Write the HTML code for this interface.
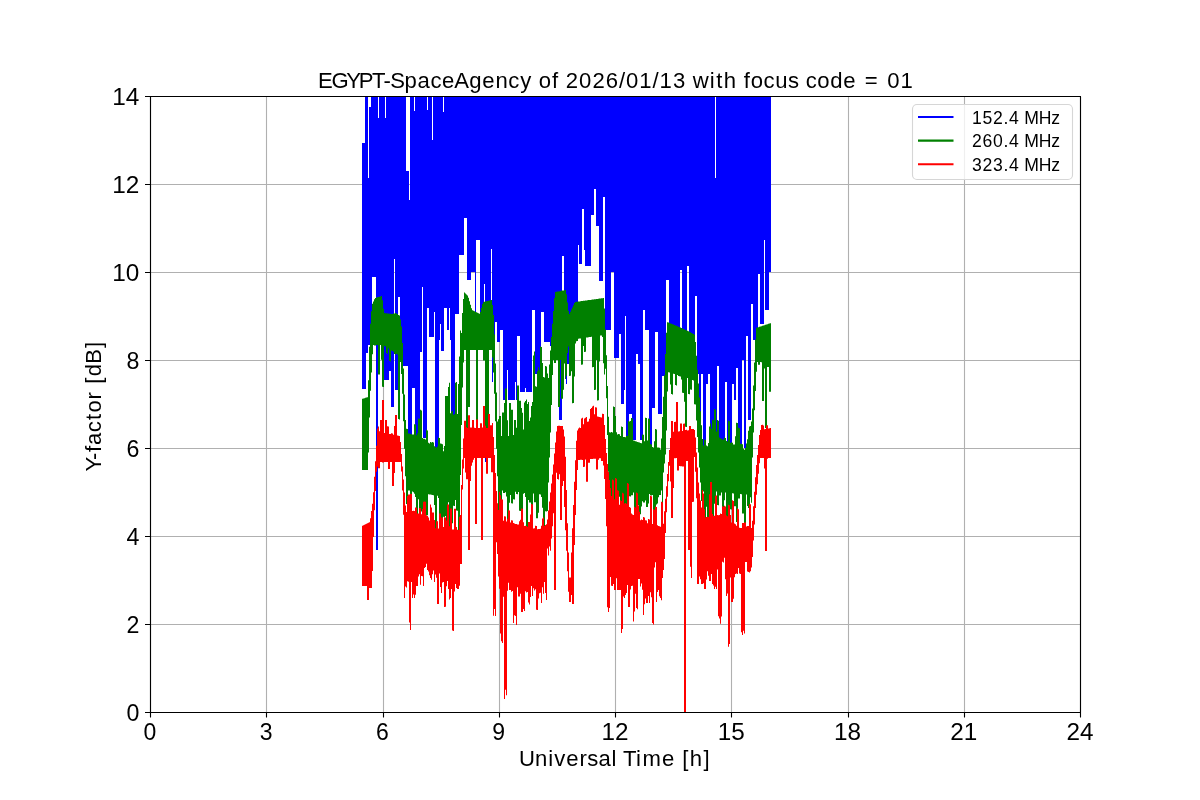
<!DOCTYPE html><html><head><meta charset="utf-8"><style>html,body{margin:0;padding:0;background:#fff;width:1200px;height:800px;overflow:hidden}svg{display:block;will-change:transform}text{font-family:"Liberation Sans",sans-serif;fill:#000}</style></head><body>
<svg width="1200" height="800" viewBox="0 0 1200 800">
<rect x="0" y="0" width="1200" height="800" fill="#fff"/>
<path d="M150.5 96V712 M266.5 96V712 M383.5 96V712 M499.5 96V712 M615.5 96V712 M731.5 96V712 M848.5 96V712 M964.5 96V712 M1080.5 96V712 M150 712.5H1080 M150 624.5H1080 M150 536.5H1080 M150 448.5H1080 M150 360.5H1080 M150 272.5H1080 M150 184.5H1080 M150 96.5H1080" stroke="#b0b0b0" stroke-width="1.11" fill="none"/>
<path d="M362 143 365 143 365 96 368 96 368 178 369 178 369 107 371 107 371 96 378 96 378 118 379 118 379 96 385 96 385 118 386 118 386 96 406 96 406 171 409 171 409 200 410 200 410 96 414 96 414 111 415 111 415 96 427 96 427 110 428 110 428 96 432 96 432 140 433 140 433 96 443 96 443 112 444 112 444 96 715 96 715 178 716 178 716 96 771 96 771 272 769 272 769 310 765 310 765 240 764 240 764 324 760 324 760 274 758 274 758 340 753 340 753 304 751 304 751 420 748 420 748 336 746 336 746 448 744 448 744 360 742 360 742 448 738 448 738 368 736 368 736 400 734 400 734 384 732 384 732 448 727 448 727 382 725 382 725 448 719 448 719 366 717 366 717 440 710 440 710 374 708 374 708 384 706 384 706 448 703 448 703 374 701 374 701 412 699 412 699 374 697 374 697 296 695 296 695 345 689 345 689 266 687 266 687 345 682 345 682 270 680 270 680 345 669 345 669 280 666 280 666 376 662 376 662 414 658 414 658 332 655 332 655 408 652 408 652 448 649 448 649 330 645 330 645 310 643 310 643 440 640 440 640 364 638 364 638 354 636 354 636 440 632 440 632 414 629 414 629 436 626 436 626 316 625 316 625 390 624 390 624 404 621 404 621 334 619 334 619 358 614 358 614 272 611 272 611 330 605 330 605 197 603 197 603 281 599 281 599 226 596 226 596 189 594 189 594 215 591 215 591 266 585 266 585 250 584 250 584 209 582 209 582 264 579 264 579 245 578 245 578 330 573 330 573 364 567 364 567 384 566 384 566 340 564 340 564 256 562 256 562 420 559 420 559 340 553 340 553 346 550 346 550 342 544 342 544 312 541 312 541 374 535 374 535 310 532 310 532 392 526 392 526 388 525 388 525 392 520 392 520 336 517 336 517 400 516 400 516 382 515 382 515 400 508 400 508 370 507 370 507 400 503 400 503 330 500 330 500 342 497 342 497 322 495 322 495 340 493 340 493 382 492 382 492 249 491 249 491 330 488 330 488 462 485 462 485 284 484 284 484 330 480 330 480 240 476 240 476 315 475 315 475 272 471 272 471 280 467 280 467 218 464 218 464 255 459 255 459 314 455 314 455 420 451 420 451 340 450 340 450 308 449 308 449 330 447 330 447 308 444 308 444 351 441 351 441 324 440 324 440 340 439 340 439 448 435 448 435 312 434 312 434 337 429 337 429 308 427 308 427 438 423 438 423 287 422 287 422 352 420 352 420 436 415 436 415 388 412 388 412 460 408 460 408 366 402 366 402 340 400 340 400 297 398 297 398 390 395 390 395 259 394 259 394 407 391 407 391 371 389 371 389 380 384 380 384 345 378 345 378 550 376 550 376 277 372 277 372 345 368 345 368 353 366 353 366 389 362 389Z" fill="#0000ff"/>
<path d="M362 398.8 363 398.8 363 398.5 364 398.5 364 398.2 365 398.2 365 397.8 366 397.8 366 397.5 367 397.5 367 397.2 368 397.2 368 380.2 369 380.2 369 346.8 370 346.8 370 323.8 371 323.8 371 311.2 372 311.2 372 303.8 373 303.8 373 301.5 374 301.5 374 299.2 375 299.2 375 297.9 376 297.9 376 297.6 377 297.6 377 297.3 378 297.3 378 297 379 297 379 296.7 380 296.7 380 296.4 381 296.4 381 296.1 382 296.1 382 300.2 383 300.2 383 308.8 384 308.8 384 313.1 385 313.1 385 313.2 386 313.2 386 313.3 387 313.3 387 313.4 388 313.4 388 313.6 389 313.6 389 313.7 390 313.7 390 313.8 391 313.8 391 313.9 392 313.9 392 313.9 393 313.9 393 313.6 394 313.6 394 313.4 395 313.4 395 313.1 396 313.1 396 313.4 397 313.4 397 314.1 398 314.1 398 314.9 399 314.9 399 315.6 400 315.6 400 319.5 401 319.5 401 326.5 402 326.5 402 342.9 403 342.9 403 368.6 404 368.6 404 394.4 405 394.4 405 420.1 406 420.1 406 428.7 407 428.7 407 428.9 408 428.9 408 433.4 409 433.4 409 433.6 410 433.6 410 433.9 411 433.9 411 434.2 412 434.2 412 434.4 413 434.4 413 434.6 414 434.6 414 424.2 415 424.2 415 424.5 416 424.5 416 435.2 417 435.2 417 433.2 418 433.2 418 418.6 419 418.6 419 418.8 420 418.8 420 409.7 421 409.7 421 410.5 422 410.5 422 438 423 438 423 438.8 424 438.8 424 438.8 425 438.8 425 439.4 426 439.4 426 429.8 427 429.8 427 430.6 428 430.6 428 442.8 429 442.8 429 443.6 430 443.6 430 442 431 442 431 442.5 432 442.5 432 442 433 442 433 442.5 434 442.5 434 446.3 435 446.3 435 446.9 436 446.9 436 447.5 437 447.5 437 446.6 438 446.6 438 437.5 439 437.5 439 438 440 438 440 443.6 441 443.6 441 443.7 442 443.7 442 444.2 443 444.2 443 451.2 444 451.2 444 446 445 446 445 396 448 396 448 387.1 449 387.1 449 382.7 450 382.7 450 413.2 451 413.2 451 411.4 452 411.4 452 410.7 453 410.7 453 414.8 454 414.8 454 414.2 455 414.2 455 382.7 456 382.7 456 382.1 457 382.1 457 414.1 458 414.1 458 384.1 459 384.1 459 356.6 460 356.6 460 330.4 461 330.4 461 333.1 462 333.1 462 313 463 313 463 299 464 299 464 292.5 465 292.5 465 293.5 466 293.5 466 294.5 467 294.5 467 295.5 468 295.5 468 297.8 469 297.8 469 301.2 470 301.2 470 304.8 471 304.8 471 308.2 472 308.2 472 310.2 473 310.2 473 310.8 474 310.8 474 311.2 475 311.2 475 311.8 476 311.8 476 312.2 477 312.2 477 312.8 478 312.8 478 313.2 479 313.2 479 313.8 480 313.8 480 312 481 312 481 308 482 308 482 304 483 304 483 301.9 484 301.9 484 301.7 485 301.7 485 301.4 486 301.4 486 301.2 487 301.2 487 301 488 301 488 300.8 489 300.8 489 300.6 490 300.6 490 300.3 491 300.3 491 300.1 492 300.1 492 305 493 305 493 315 494 315 494 334.5 495 334.5 495 363.5 496 363.5 496 392.5 497 392.5 497 421.5 498 421.5 498 419.3 499 419.3 499 416 501 416 501 436 502 436 502 412.5 504 412.5 504 402.9 505 402.9 505 388.5 507 388.5 507 420.2 508 420.2 508 436 509 436 509 403 511 403 511 409.7 513 409.7 513 435.1 514 435.1 514 419.9 516 419.9 516 427.8 517 427.8 517 385.5 519 385.5 519 400.7 521 400.7 521 407.9 522 407.9 522 412.8 523 412.8 523 429.5 524 429.5 524 402.6 525 402.6 525 400.9 526 400.9 526 399.4 527 399.4 527 403.9 528 403.9 528 402.1 529 402.1 529 420.9 530 420.9 530 417.4 531 417.4 531 405.9 532 405.9 532 401.9 533 401.9 533 355.4 534 355.4 534 351.4 535 351.4 535 386.3 536 386.3 536 386.8 537 386.8 537 371.3 538 371.3 538 367.3 539 367.3 539 370.3 540 370.3 540 346.4 541 346.4 541 347 542 347 542 363.1 543 363.1 543 376.9 544 376.9 544 377.5 545 377.5 545 365.9 546 365.9 546 366.5 547 366.5 547 373.4 548 373.4 548 378.1 549 378.1 549 364.4 550 364.4 550 350.6 551 350.6 551 336.9 552 336.9 552 323.7 553 323.7 553 311 554 311 554 298.3 555 298.3 555 291.9 556 291.9 556 291.7 557 291.7 557 291.5 558 291.5 558 291.4 559 291.4 559 291.2 560 291.2 560 291 561 291 561 290.8 562 290.8 562 290.6 563 290.6 563 290.5 564 290.5 564 290.3 565 290.3 565 290.1 566 290.1 566 294.2 567 294.2 567 302.5 568 302.5 568 310.8 569 310.8 569 313.9 570 313.9 570 311.8 571 311.8 571 309.6 572 309.6 572 307.4 573 307.4 573 305.2 574 305.2 574 303.1 575 303.1 575 301.9 576 301.9 576 301.8 577 301.8 577 301.7 578 301.7 578 301.5 579 301.5 579 301.4 580 301.4 580 301.2 581 301.2 581 301.1 582 301.1 582 301 583 301 583 300.8 584 300.8 584 300.7 585 300.7 585 300.6 586 300.6 586 300.4 587 300.4 587 300.3 588 300.3 588 300.1 589 300.1 589 300 590 300 590 299.9 591 299.9 591 299.7 592 299.7 592 299.6 593 299.6 593 299.4 594 299.4 594 299.3 595 299.3 595 299.2 596 299.2 596 299 597 299 597 298.9 598 298.9 598 298.8 599 298.8 599 298.6 600 298.6 600 298.5 601 298.5 601 298.3 602 298.3 602 298.2 603 298.2 603 298.1 604 298.1 604 308.5 605 308.5 605 329.5 606 329.5 606 355.3 607 355.3 607 386 608 386 608 416.7 609 416.7 609 432.2 610 432.2 610 432.5 611 432.5 611 432.1 612 432.1 612 432.4 613 432.4 613 406.6 614 406.6 614 407 615 407 615 416.1 616 416.1 616 432.2 617 432.2 617 434.6 618 434.6 618 433.9 619 433.9 619 434.3 620 434.3 620 436 621 436 621 426.5 622 426.5 622 426.9 623 426.9 623 436.9 624 436.9 624 436.9 625 436.9 625 437.2 626 437.2 626 435.8 627 435.8 627 436.1 628 436.1 628 421.1 629 421.1 629 421.5 630 421.5 630 421 631 421 631 418.1 632 418.1 632 418.4 633 418.4 633 440.5 634 440.5 634 440.8 635 440.8 635 441.2 636 441.2 636 441.5 637 441.5 637 441.9 638 441.9 638 442.2 639 442.2 639 442.6 640 442.6 640 442.9 641 442.9 641 443.2 642 443.2 642 434.4 643 434.4 643 434.8 644 434.8 644 441.3 645 441.3 645 417.7 646 417.7 646 418.1 647 418.1 647 440.6 648 440.6 648 418.5 649 418.5 649 418.9 650 418.9 650 444 651 444 651 444.4 652 444.4 652 447.1 653 447.1 653 447.4 654 447.4 654 441.2 655 441.2 655 429.1 656 429.1 656 429.4 657 429.4 657 447.5 658 447.5 658 447.4 659 447.4 659 447.8 660 447.8 660 449.6 661 449.6 661 438.4 662 438.4 662 417.1 663 417.1 663 396.7 664 396.7 664 375.3 665 375.3 665 354 666 354 666 332.7 667 332.7 667 322.2 668 322.2 668 322.6 669 322.6 669 323 670 323 670 323.4 671 323.4 671 323.8 672 323.8 672 324.2 673 324.2 673 324.6 674 324.6 674 325 675 325 675 325.4 676 325.4 676 325.8 677 325.8 677 326.2 678 326.2 678 326.7 679 326.7 679 327.2 680 327.2 680 327.6 681 327.6 681 328.1 682 328.1 682 328.5 683 328.5 683 329 684 329 684 329.5 685 329.5 685 329.9 686 329.9 686 330.4 687 330.4 687 330.8 688 330.8 688 331.3 689 331.3 689 331.8 690 331.8 690 332.3 691 332.3 691 332.9 692 332.9 692 333.5 693 333.5 693 334.1 694 334.1 694 334.7 695 334.7 695 341.9 696 341.9 696 355.8 697 355.8 697 369.7 698 369.7 698 383.6 699 383.6 699 397.4 700 397.4 700 411.3 701 411.3 701 425.2 702 425.2 702 439.1 703 439.1 703 445.5 704 445.5 704 439.5 705 439.5 705 440 706 440 706 445.6 707 445.6 707 446.2 708 446.2 708 443 709 443 709 426.6 710 426.6 710 423.4 711 423.4 711 428.7 712 428.7 712 419.4 713 419.4 713 420.2 714 420.2 714 409 715 409 715 409.8 716 409.8 716 431.5 717 431.5 717 420.1 718 420.1 718 420.8 719 420.8 719 437.6 720 437.6 720 438.2 721 438.2 721 438.7 722 438.7 722 439.2 723 439.2 723 439.7 724 439.7 724 437.4 725 437.4 725 437.9 726 437.9 726 441 727 441 727 441.5 728 441.5 728 420.8 729 420.8 729 421.3 730 421.3 730 443 731 443 731 442.2 732 442.2 732 442.7 733 442.7 733 444.4 734 444.4 734 444.6 735 444.6 735 436.3 736 436.3 736 422.7 737 422.7 737 423.1 738 423.1 738 427.7 739 427.7 739 428.2 740 428.2 740 443.8 741 443.8 741 443.9 742 443.9 742 444.3 743 444.3 743 448.8 744 448.8 744 449.8 745 449.8 745 447.9 746 447.9 746 443.6 747 443.6 747 439.3 748 439.3 748 430.8 749 430.8 749 426.5 750 426.5 750 425.9 751 425.9 751 421.6 752 421.6 752 408.5 753 408.5 753 385.5 754 385.5 754 362.5 755 362.5 755 339.5 756 339.5 756 327.8 757 327.8 757 327.5 758 327.5 758 327.2 759 327.2 759 326.8 760 326.8 760 326.5 761 326.5 761 326.2 762 326.2 762 325.8 763 325.8 763 325.5 764 325.5 764 325.2 765 325.2 765 324.8 766 324.8 766 324.5 767 324.5 767 324.2 768 324.2 768 323.8 769 323.8 769 323.5 770 323.5 770 323.2 771 323.2 771 391.7 769 391.7 769 367.1 767 367.1 767 428 765 428 765 368.5 764 368.5 764 400.9 762 400.9 762 362.2 761 362.2 761 362 760 362 760 364.7 758 364.7 758 362 757 362 757 371.7 756 371.7 756 391 755 391 755 410.3 754 410.3 754 432.5 753 432.5 753 457.5 752 457.5 752 502.7 751 502.7 751 497.2 750 497.2 750 508 749 508 749 507.9 748 507.9 748 505.9 747 505.9 747 494.6 746 494.6 746 528.8 745 528.8 745 528.7 744 528.7 744 513.6 743 513.6 743 513.5 742 513.5 742 494.2 741 494.2 741 494.1 740 494.1 740 498.5 739 498.5 739 498.4 738 498.4 738 522.2 737 522.2 737 522.1 736 522.1 736 506.3 735 506.3 735 506.2 734 506.2 734 493.4 733 493.4 733 493.3 732 493.3 732 509.4 731 509.4 731 509.3 730 509.3 730 517.3 729 517.3 729 517.2 728 517.2 728 528.4 727 528.4 727 528.3 726 528.3 726 492.4 725 492.4 725 500.3 724 500.3 724 507.5 723 507.5 723 507.4 722 507.4 722 492.4 721 492.4 721 495.5 720 495.5 720 495.4 719 495.4 719 505.2 718 505.2 718 505.1 717 505.1 717 491.6 716 491.6 716 497.7 715 497.7 715 503.8 714 503.8 714 531.8 713 531.8 713 531.7 712 531.7 712 491.1 711 491.1 711 499.1 710 499.1 710 499 709 499 709 530.6 708 530.6 708 530.5 707 530.5 707 506.7 706 506.7 706 520.2 705 520.2 705 520.1 704 520.1 704 491.6 703 491.6 703 501.1 702 501.1 702 501 701 501 701 482.5 700 482.5 700 467.5 699 467.5 699 452.5 698 452.5 698 436.9 697 436.9 697 420.6 696 420.6 696 404.4 695 404.4 695 404.3 694 404.3 694 380.4 693 380.4 693 380.1 692 380.1 692 389.7 691 389.7 691 389.4 690 389.4 690 394.3 689 394.3 689 394 688 394 688 378 687 378 687 427 686 427 686 426.7 685 426.7 685 401.8 684 401.8 684 393 683 393 683 392.7 682 392.7 682 379.4 681 379.4 681 376.4 680 376.4 680 376.3 679 376.3 679 376 678 376 678 375 677 375 677 385.4 676 385.4 676 385 675 385 675 374 674 374 674 373.7 673 373.7 673 394.4 672 394.4 672 394.1 671 394.1 671 384.6 670 384.6 670 372.5 669 372.5 669 372.2 668 372.2 668 391.5 667 391.5 667 430.5 666 430.5 666 454.5 665 454.5 665 463.5 664 463.5 664 472.5 663 472.5 663 516.8 662 516.8 662 490.5 661 490.5 661 495 660 495 660 494.9 659 494.9 659 497.2 658 497.2 658 503.6 657 503.6 657 504.4 656 504.4 656 510.7 655 510.7 655 542.1 654 542.1 654 542 653 542 653 495 652 495 652 495.4 651 495.4 651 495.3 650 495.3 650 493.9 649 493.9 649 503.4 648 503.4 648 507 647 507 647 506.9 646 506.9 646 500.5 645 500.5 645 502.5 644 502.5 644 502.4 643 502.4 643 501.3 642 501.3 642 506.5 641 506.5 641 514.3 640 514.3 640 514.2 639 514.2 639 505.3 638 505.3 638 495.5 637 495.5 637 510.5 636 510.5 636 533.9 635 533.9 635 533.8 634 533.8 634 492.4 633 492.4 633 495.3 632 495.3 632 495.2 631 495.2 631 496.4 630 496.4 630 496.3 629 496.3 629 538.6 628 538.6 628 538.5 627 538.5 627 522.9 626 522.9 626 522.8 625 522.8 625 506.1 624 506.1 624 528.6 623 528.6 623 528.5 622 528.5 622 513.8 621 513.8 621 513.7 620 513.7 620 496.8 619 496.8 619 537.7 618 537.7 618 537.6 617 537.6 617 523.1 616 523.1 616 535.5 615 535.5 615 535.4 614 535.4 614 491 613 491 613 490.9 612 490.9 612 496 611 496 611 534.7 610 534.7 610 534.6 609 534.6 609 471.7 608 471.7 608 435 607 435 607 398.3 606 398.3 606 368.8 605 368.8 605 374.5 604 374.5 604 363.3 603 363.3 603 337 602 337 602 335.6 601 335.6 601 335.5 600 335.5 600 361.4 599 361.4 599 400.3 598 400.3 598 400.4 597 400.4 597 360 596 360 596 389.8 595 389.8 595 389.9 594 389.9 594 367.1 593 367.1 593 367.2 592 367.2 592 336.8 591 336.8 591 336.9 590 336.9 590 337.1 589 337.1 589 337.2 588 337.2 588 337.4 587 337.4 587 337.5 586 337.5 586 351.7 585 351.7 585 351.9 584 351.9 584 345.9 583 345.9 583 364.6 582 364.6 582 364.7 581 364.7 581 338.4 580 338.4 580 338.6 579 338.6 579 338.8 578 338.8 578 341.1 577 341.1 577 341.3 576 341.3 576 343.6 575 343.6 575 376.5 574 376.5 574 403.1 573 403.1 573 403.3 572 403.3 572 371.3 571 371.3 571 375.8 570 375.8 570 375.9 569 375.9 569 346.4 568 346.4 568 353.1 567 353.1 567 375.8 566 375.8 566 379.1 565 379.1 565 363.6 564 363.6 564 389.8 563 389.8 563 398.8 561 398.8 561 360 560 360 560 407.1 558 407.1 558 360 556 360 556 363 554 363 554 360 553 360 553 375 552 375 552 405 551 405 551 432.5 550 432.5 550 457.5 549 457.5 549 482.5 548 482.5 548 510.9 547 510.9 547 511.4 546 511.4 546 511.3 545 511.3 545 533.5 544 533.5 544 533.4 543 533.4 543 507.8 542 507.8 542 497 541 497 541 494.5 540 494.5 540 494.2 539 494.2 539 512.8 538 512.8 538 518.3 537 518.3 537 518.2 536 518.2 536 502.3 535 502.3 535 502.2 534 502.2 534 493.6 533 493.6 533 532.6 532 532.6 532 532.5 531 532.5 531 502.6 530 502.6 530 502.5 529 502.5 529 500 528 500 528 534.7 527 534.7 527 534.6 526 534.6 526 497.1 525 497.1 525 493 524 493 524 493.8 523 493.8 523 511 522 511 522 510.9 521 510.9 521 510.9 520 510.9 520 510.8 519 510.8 519 492.1 518 492.1 518 494.2 517 494.2 517 494.1 516 494.1 516 491.8 515 491.8 515 499.4 514 499.4 514 499.3 513 499.3 513 503.4 512 503.4 512 503.3 511 503.3 511 495.1 510 495.1 510 502.7 509 502.7 509 519.6 508 519.6 508 519.5 507 519.5 507 496.6 506 496.6 506 492.2 505 492.2 505 493.1 504 493.1 504 493 503 493 503 490.5 502 490.5 502 519.2 501 519.2 501 519.1 500 519.1 500 523.3 499 523.3 499 523.2 498 523.2 498 476.2 497 476.2 497 448.8 496 448.8 496 421.2 495 421.2 495 393.8 494 393.8 494 372.5 493 372.5 493 357.5 492 357.5 492 350 489 350 489 441.7 487 441.7 487 433.1 486 433.1 486 432.4 485 432.4 485 360.5 483 360.5 483 350 478 350 478 427.9 476 427.9 476 350 470 350 470 406.9 468 406.9 468 446.2 466 446.2 466 350 464 350 464 362.5 463 362.5 463 387.5 462 387.5 462 425 461 425 461 475 460 475 460 530.8 459 530.8 459 530.6 458 530.6 458 510.7 457 510.7 457 510.6 456 510.6 456 499.9 455 499.9 455 505.9 454 505.9 454 505.7 453 505.7 453 523.3 452 523.3 452 523.1 451 523.1 451 535.2 450 535.2 450 535 449 535 449 502.2 448 502.2 448 533.3 447 533.3 447 533.1 446 533.1 446 515.9 445 515.9 445 517 444 517 444 516.8 443 516.8 443 531.6 442 531.6 442 531.4 441 531.4 441 524.1 440 524.1 440 523.9 439 523.9 439 498.1 438 498.1 438 495.8 437 495.8 437 535.8 436 535.8 436 535.7 435 535.7 435 505.1 434 505.1 434 495.3 433 495.3 433 494.9 432 494.9 432 494.7 431 494.7 431 494.5 430 494.5 430 494.4 429 494.4 429 494.2 428 494.2 428 515.3 427 515.3 427 515.2 426 515.2 426 508.7 425 508.7 425 503.6 424 503.6 424 509.1 423 509.1 423 511.7 422 511.7 422 511.5 421 511.5 421 515.7 420 515.7 420 515.6 419 515.6 419 499.2 418 499.2 418 517.7 417 517.7 417 517.5 416 517.5 416 497.1 415 497.1 415 493.7 414 493.7 414 492.3 413 492.3 413 491.4 412 491.4 412 527.3 411 527.3 411 527.1 410 527.1 410 490.6 409 490.6 409 490.5 408 490.5 408 504 407 504 407 503.9 406 503.9 406 476.2 405 476.2 405 448.8 404 448.8 404 421.2 403 421.2 403 393.8 402 393.8 402 374 401 374 401 362 400 362 400 419.6 399 419.6 399 418.9 398 418.9 398 354.4 397 354.4 397 353.7 396 353.7 396 354.6 395 354.6 395 353.9 394 353.9 394 351.8 393 351.8 393 351.1 392 351.1 392 350.5 391 350.5 391 361.4 390 361.4 390 360.8 389 360.8 389 348.6 388 348.6 388 353.7 387 353.7 387 353 386 353 386 346.6 385 346.6 385 346 384 346 384 387.1 383 387.1 383 386.8 382 386.8 382 359.8 381 359.8 381 345 380 345 380 374.4 378 374.4 378 345 376 345 376 345.6 374 345.6 374 345 373 345 373 354.2 372 354.2 372 372.5 371 372.5 371 390.8 370 390.8 370 417.5 369 417.5 369 452.5 368 452.5 368 470 362 470Z" fill="#008000"/>
<path d="M362 525.8 363 525.8 363 525.2 364 525.2 364 524.8 365 524.8 365 524.2 366 524.2 366 523.8 367 523.8 367 523.2 368 523.2 368 522.8 369 522.8 369 522.2 370 522.2 370 518.3 371 518.3 371 511 372 511 372 503.7 373 503.7 373 492.2 374 492.2 374 476.8 375 476.8 375 461.2 376 461.2 376 445.8 377 445.8 377 428.6 378 428.6 378 426.6 379 426.6 379 431.3 380 431.3 380 419.9 381 419.9 381 420.1 382 420.1 382 400 384 400 384 432.9 385 432.9 385 419.9 386 419.9 386 420.1 387 420.1 387 426.3 388 426.3 388 426.5 389 426.5 389 433.9 390 433.9 390 434.1 391 434.1 391 433.3 392 433.3 392 433.5 393 433.5 393 434.7 394 434.7 394 426 395 426 395 415 397 415 397 435.5 398 435.5 398 435.7 399 435.7 399 435.9 400 435.9 400 442 401 442 401 454 402 454 402 466.5 403 466.5 403 479.5 404 479.5 404 492.5 405 492.5 405 505.5 406 505.5 406 512 407 512 407 495.9 408 495.9 408 494.4 409 494.4 409 494.6 410 494.6 410 493.8 411 493.8 411 494 412 494 412 511.1 413 511.1 413 510.8 414 510.8 414 511 415 511 415 507.6 416 507.6 416 507.8 417 507.8 417 513.4 418 513.4 418 513.6 419 513.6 419 507.9 420 507.9 420 508.1 421 508.1 421 514.2 422 514.2 422 509.1 423 509.1 423 501.7 424 501.7 424 501.6 425 501.6 425 501.7 426 501.7 426 515.3 427 515.3 427 515.9 428 515.9 428 517.5 429 517.5 429 520.5 430 520.5 430 504.6 431 504.6 431 507.6 432 507.6 432 512.4 433 512.4 433 512.4 434 512.4 434 519.9 435 519.9 435 528.2 436 528.2 436 521.3 437 521.3 437 521.3 438 521.3 438 528.4 439 528.4 439 513.6 440 513.6 440 513.6 441 513.6 441 517.4 442 517.4 442 517.4 443 517.4 443 527.1 444 527.1 444 517.3 445 517.3 445 517.4 446 517.4 446 520.6 447 520.6 447 504.4 448 504.4 448 504.4 449 504.4 449 526.2 450 526.2 450 508.4 451 508.4 451 508.5 452 508.5 452 529.5 453 529.5 453 529.5 454 529.5 454 508.7 455 508.7 455 508.8 456 508.8 456 526.9 457 526.9 457 529.8 458 529.8 458 529.9 459 529.9 459 516.8 460 516.8 460 515 461 515 461 485 462 485 462 459.5 463 459.5 463 438.5 464 438.5 464 420.8 466 420.8 466 427.3 467 427.3 467 428 468 428 468 415.2 470 415.2 470 427.5 472 427.5 472 419.9 474 419.9 474 427.7 475 427.7 475 428 476 428 476 419.6 478 419.6 478 428 480 428 480 423.3 482 423.3 482 427.4 483 427.4 483 406 485 406 485 425.7 486 425.7 486 428 487 428 487 427.9 488 427.9 488 413.9 490 413.9 490 425.3 492 425.3 492 423 493 423 493 437 494 437 494 455 495 455 495 473 496 473 496 491 497 491 497 503.3 498 503.3 498 510 499 510 499 491.8 500 491.8 500 495.3 501 495.3 501 499.3 502 499.3 502 499.5 503 499.5 503 520.8 504 520.8 504 516.3 505 516.3 505 516.5 506 516.5 506 521.6 507 521.6 507 518.8 508 518.8 508 510.3 509 510.3 509 510.5 510 510.5 510 522.5 511 522.5 511 520.2 512 520.2 512 520.4 513 520.4 513 523.1 514 523.1 514 523.6 515 523.6 515 523.9 516 523.9 516 524.1 517 524.1 517 524.4 518 524.4 518 524.4 519 524.4 519 521.2 520 521.2 520 519.7 521 519.7 521 508.6 522 508.6 522 508.8 523 508.8 523 522.2 524 522.2 524 526.1 525 526.1 525 525.7 526 525.7 526 525.9 527 525.9 527 526.7 528 526.7 528 521.9 529 521.9 529 522.1 530 522.1 530 514.6 531 514.6 531 504.1 532 504.1 532 504.4 533 504.4 533 528.4 534 528.4 534 528.3 535 528.3 535 525.8 536 525.8 536 526.1 537 526.1 537 529.3 538 529.3 538 528.9 539 528.9 539 529.1 540 529.1 540 528.7 541 528.7 541 525.7 542 525.7 542 518.5 543 518.5 543 517.6 544 517.6 544 526.1 545 526.1 545 525.1 546 525.1 546 524.3 547 524.3 547 519.5 548 519.5 548 510.5 549 510.5 549 501.5 550 501.5 550 492.5 551 492.5 551 483.5 552 483.5 552 474.5 553 474.5 553 464.5 554 464.5 554 453.5 555 453.5 555 442.5 556 442.5 556 431.5 557 431.5 557 426 558 426 558 425.8 560 425.8 560 425.9 561 425.9 561 426 562 426 562 426 563 426 563 429.5 564 429.5 564 436.5 565 436.5 565 456.7 566 456.7 566 490 567 490 567 523.3 568 523.3 568 552.5 569 552.5 569 577.5 571 577.5 571 552.5 572 552.5 572 528.3 573 528.3 573 505 574 505 574 481.7 575 481.7 575 460.2 576 460.2 576 440.8 577 440.8 577 430.6 578 430.6 578 428.5 579 428.5 579 427.6 580 427.6 580 428.1 581 428.1 581 418.6 582 418.6 582 417.8 583 417.8 583 424.3 584 424.3 584 418.5 585 418.5 585 417.7 586 417.7 586 417.1 587 417.1 587 421.8 588 421.8 588 421.4 589 421.4 589 418.8 590 418.8 590 408.9 591 408.9 591 408 592 408 592 406.6 593 406.6 593 405.8 594 405.8 594 414.2 595 414.2 595 407.2 596 407.2 596 407.4 597 407.4 597 416.6 598 416.6 598 416.8 599 416.8 599 417 600 417 600 417.2 601 417.2 601 417.4 602 417.4 602 413.7 603 413.7 603 413.9 604 413.9 604 424.9 605 424.9 605 439 606 439 606 453 607 453 607 464 608 464 608 472 609 472 609 480 610 480 610 488 611 488 611 496 612 496 612 479.6 613 479.6 613 480.2 614 480.2 614 499.2 615 499.2 615 478.1 616 478.1 616 478.7 617 478.7 617 490.2 618 490.2 618 490.8 619 490.8 619 504.7 620 504.7 620 500.2 621 500.2 621 501 622 501 622 492.8 623 492.8 623 493.6 624 493.6 624 503.4 625 503.4 625 502.9 626 502.9 626 503.7 627 503.7 627 483 628 483 628 483.8 629 483.8 629 507 630 507 630 507.8 631 507.8 631 513.6 632 513.6 632 514.4 633 514.4 633 515.1 634 515.1 634 506.8 635 506.8 635 507.6 636 507.6 636 492.4 637 492.4 637 493.2 638 493.2 638 505.5 639 505.5 639 511.7 640 511.7 640 520.2 641 520.2 641 519.5 642 519.5 642 519.9 643 519.9 643 517.1 644 517.1 644 517.5 645 517.5 645 520.2 646 520.2 646 520.6 647 520.6 647 523.3 648 523.3 648 519.1 649 519.1 649 519.5 650 519.5 650 495.7 651 495.7 651 496.2 652 496.2 652 523.9 653 523.9 653 509.3 654 509.3 654 509.7 655 509.7 655 506.7 656 506.7 656 507.1 657 507.1 657 525.2 658 525.2 658 525.9 659 525.9 659 526.3 660 526.3 660 526.8 661 526.8 661 501.8 662 501.8 662 502.3 663 502.3 663 523.8 664 523.8 664 511.2 665 511.2 665 498.8 666 498.8 666 486.2 667 486.2 667 474 668 474 668 462 669 462 669 450 670 450 670 438 671 438 671 421 672 421 672 421 673 421 673 431.8 674 431.8 674 421.9 675 421.9 675 421.8 676 421.8 676 402 678 402 678 431.4 679 431.4 679 431.3 680 431.3 680 423.5 681 423.5 681 423.4 682 423.4 682 431 683 431 683 423.7 684 423.7 684 423.6 685 423.6 685 429.9 686 429.9 686 429.8 687 429.8 687 430.6 688 430.6 688 430.3 689 430.3 689 426 690 426 690 425.9 691 425.9 691 429.1 692 429.1 692 429 693 429 693 429 694 429 694 430 695 430 695 437.5 696 437.5 696 452.5 697 452.5 697 467.5 698 467.5 698 482.5 699 482.5 699 493.5 700 493.5 700 500.5 701 500.5 701 507.5 702 507.5 702 489.9 703 489.9 703 493.4 704 493.4 704 509.3 705 509.3 705 517.5 706 517.5 706 517 707 517 707 516.8 708 516.8 708 517 709 517 709 494.2 710 494.2 710 482 712 482 712 514 713 514 713 516 714 516 714 515.8 715 515.8 715 495.8 716 495.8 716 495.6 717 495.6 717 515 718 515 718 515.3 719 515.3 719 515.1 720 515.1 720 513.5 721 513.5 721 514.1 722 514.1 722 506.3 723 506.3 723 506.9 724 506.9 724 505.8 725 505.8 725 506.5 726 506.5 726 515.6 727 515.6 727 516.2 728 516.2 728 504.7 729 504.7 729 505.3 730 505.3 730 515 731 515 731 522.5 732 522.5 732 500.3 733 500.3 733 501 734 501 734 523.5 735 523.5 735 524.2 736 524.2 736 525.7 737 525.7 737 508.6 738 508.6 738 509.2 739 509.2 739 527.7 740 527.7 740 528 742 528 742 523 744 523 744 522.6 746 522.6 746 526.5 747 526.5 747 525.9 749 525.9 749 504.2 751 504.2 751 528 752 528 752 520.8 753 520.8 753 506.2 754 506.2 754 491.8 755 491.8 755 477.2 756 477.2 756 465 757 465 757 455 758 455 758 445 759 445 759 435 760 435 760 429.9 761 429.9 761 424.9 762 424.9 762 424.7 763 424.7 763 425.4 764 425.4 764 429.2 765 429.2 765 429 766 429 766 425.5 767 425.5 767 425.3 768 425.3 768 428.4 769 428.4 769 428.2 770 428.2 770 428.1 771 428.1 771 458.1 770 458.1 770 458 768 458 768 458.7 767 458.7 767 551 765 551 765 468.5 764 468.5 764 458.1 762 458.1 762 458 760 458 760 463.2 759 463.2 759 473.8 758 473.8 758 484.2 757 484.2 757 494.8 756 494.8 756 508.1 755 508.1 755 524.4 754 524.4 754 540.6 753 540.6 753 556.9 752 556.9 752 567.5 751 567.5 751 571.2 750 571.2 750 572.6 749 572.6 749 571.9 748 571.9 748 571.4 747 571.4 747 562 746 562 746 562 745 562 745 633.5 744 633.5 744 630.8 743 630.8 743 635 742 635 742 632.3 741 632.3 741 574 740 574 740 573.5 739 573.5 739 568.1 738 568.1 738 574 737 574 737 573.6 736 573.6 736 574 735 574 735 577.2 734 577.2 734 598.7 733 598.7 733 602 731 602 731 577.4 730 577.4 730 644 729 644 729 646.8 728 646.8 728 593.6 727 593.6 727 596 726 596 726 579.3 725 579.3 725 557.8 724 557.8 724 562.6 723 562.6 723 561.7 722 561.7 722 616.4 721 616.4 721 623.7 720 623.7 720 618.5 719 618.5 719 616.3 718 616.3 718 569.6 717 569.6 717 589 716 589 716 586.7 715 586.7 715 588.9 714 588.9 714 585.6 713 585.6 713 583.9 712 583.9 712 574 711 574 711 581 709 581 709 575.8 708 575.8 708 571.2 707 571.2 707 579.5 706 579.5 706 589 704 589 704 583.2 703 583.2 703 584 701 584 701 579.2 700 579.2 700 576.4 699 576.4 699 584 697 584 697 498.2 696 498.2 696 471.7 695 471.7 695 457.1 694 457.1 694 501.8 693 501.8 693 501.9 692 501.9 692 578 691 578 691 566.8 690 566.8 690 550 688 550 688 461 686 461 686 712 684 712 684 466.5 682 466.5 682 466.2 680 466.2 680 465.9 679 465.9 679 470.5 677 470.5 677 458 676 458 676 458.2 674 458.2 674 488 673 488 673 518 671 518 671 481.6 670 481.6 670 465.8 669 465.8 669 481.2 668 481.2 668 496.8 667 496.8 667 512.2 666 512.2 666 533 665 533 665 559 664 559 664 570.1 663 570.1 663 578 662 578 662 600.2 661 600.2 661 598.1 660 598.1 660 596.2 659 596.2 659 589.9 658 589.9 658 592 657 592 657 601.9 656 601.9 656 562.3 655 562.3 655 567.6 654 567.6 654 624.5 653 624.5 653 623 652 623 652 597.3 651 597.3 651 592.3 650 592.3 650 603 649 603 649 595.9 648 595.9 648 603 646 603 646 598.6 645 598.6 645 604.3 644 604.3 644 614.9 643 614.9 643 589.8 642 589.8 642 583.4 641 583.4 641 586.6 640 586.6 640 578.9 639 578.9 639 579 638 579 638 609.3 637 609.3 637 608 636 608 636 593.7 635 593.7 635 611.4 634 611.4 634 621.6 633 621.6 633 585.7 632 585.7 632 586 631 586 631 589.6 630 589.6 630 606.9 629 606.9 629 607 628 607 628 585.1 627 585.1 627 593.1 626 593.1 626 595.1 625 595.1 625 598 624 598 624 596.5 623 596.5 623 629 622 629 622 633 621 633 621 590 620 590 620 590 619 590 619 590 617 590 617 578.2 616 578.2 616 590 614 590 614 584 613 584 613 586 612 586 612 585.7 611 585.7 611 577 610 577 610 607.9 609 607.9 609 612 608 612 608 607.2 607 607.2 607 526.3 606 526.3 606 499 605 499 605 479.1 604 479.1 604 465.5 603 465.5 603 460.9 602 460.9 602 461 601 461 601 458.3 600 458.3 600 458.3 599 458.3 599 459.7 598 459.7 598 469.5 597 469.5 597 469.6 596 469.6 596 458.7 595 458.7 595 458.7 594 458.7 594 458.8 593 458.8 593 458.9 592 458.9 592 459 591 459 591 459 590 459 590 462.7 589 462.7 589 462.8 588 462.8 588 481.8 587 481.8 587 481.8 586 481.8 586 459.4 585 459.4 585 466.8 584 466.8 584 466.9 583 466.9 583 460.1 582 460.1 582 459.8 581 459.8 581 459.8 580 459.8 580 459.9 579 459.9 579 460 578 460 578 470 577 470 577 490 576 490 576 515 575 515 575 545 574 545 574 604 572 604 572 595 571 595 571 602 569 602 569 591.8 568 591.8 568 571.2 567 571.2 567 550.8 566 550.8 566 530.2 565 530.2 565 507 564 507 564 481 563 481 563 486 562 486 562 520 560 520 560 474.2 559 474.2 559 479.5 558 479.5 558 479.1 557 479.1 557 472.8 556 472.8 556 590 554 590 554 513.2 553 513.2 553 526.2 552 526.2 552 538.5 551 538.5 551 550.8 550 550.8 550 546.6 549 546.6 549 555.6 548 555.6 548 548.5 547 548.5 547 599.9 546 599.9 546 593.1 545 593.1 545 582.1 544 582.1 544 593.7 543 593.7 543 587.2 542 587.2 542 603 541 603 541 592.8 540 592.8 540 593.2 539 593.2 539 598.5 538 598.5 538 610 537 610 537 609.8 536 609.8 536 589.3 535 589.3 535 590.4 534 590.4 534 588.2 533 588.2 533 596 532 596 532 586.1 531 586.1 531 597 530 597 530 604.5 529 604.5 529 602.5 528 602.5 528 591.9 527 591.9 527 592.4 526 592.4 526 591.2 525 591.2 525 611.1 524 611.1 524 608.9 523 608.9 523 612 521 612 521 593.7 520 593.7 520 596.4 519 596.4 519 596.5 518 596.5 518 587.2 517 587.2 517 625 516 625 516 616 515 616 515 615.2 514 615.2 514 622.9 513 622.9 513 591 512 591 512 591.8 511 591.8 511 590 509 590 509 582.7 508 582.7 508 590.7 507 590.7 507 695.3 506 695.3 506 689.8 505 689.8 505 698.9 504 698.9 504 596.7 503 596.7 503 643 502 643 502 641.2 501 641.2 501 633.5 500 633.5 500 588.7 499 588.7 499 576.4 498 576.4 498 554.1 497 554.1 497 542.2 496 542.2 496 616.1 495 616.1 495 609 494 609 494 615.7 493 615.7 493 472.3 491 472.3 491 458 490 458 490 458 488 458 488 473.8 486 473.8 486 458 483 458 483 540 481 540 481 458 477 458 477 524 475 524 475 458 474 458 474 459.8 473 459.8 473 462.6 472 462.6 472 465.8 471 465.8 471 480.9 470 480.9 470 550 468 550 468 479.2 466 479.2 466 472.4 465 472.4 465 458 464 458 464 468.5 463 468.5 463 489.5 462 489.5 462 564 460 564 460 585.7 459 585.7 459 589 458 589 458 589 457 589 457 588 456 588 456 583.9 455 583.9 455 591.5 454 591.5 454 631 453 631 453 630.6 452 630.6 452 588.9 451 588.9 451 598 450 598 450 599.6 449 599.6 449 588.9 448 588.9 448 580.9 447 580.9 447 586.2 446 586.2 446 606.7 445 606.7 445 607 444 607 444 582.1 443 582.1 443 582.5 442 582.5 442 593.1 441 593.1 441 587.1 440 587.1 440 573.6 439 573.6 439 604 437 604 437 577.8 436 577.8 436 574.4 435 574.4 435 582 434 582 434 570.4 433 570.4 433 574.2 432 574.2 432 579.7 431 579.7 431 578 430 578 430 575.3 429 575.3 429 571.6 428 571.6 428 570 427 570 427 563.7 426 563.7 426 567 425 567 425 568 424 568 424 586 423 586 423 576.3 422 576.3 422 576 421 576 421 584.8 420 584.8 420 574.3 419 574.3 419 576.5 418 576.5 418 586 416 586 416 594.7 415 594.7 415 598 414 598 414 594.5 413 594.5 413 598 412 598 412 582 411 582 411 630 410 630 410 622.6 409 622.6 409 581.8 408 581.8 408 581.2 407 581.2 407 587.5 406 587.5 406 586.4 405 586.4 405 598 404 598 404 514.7 403 514.7 403 490.5 402 490.5 402 471.5 401 471.5 401 462 397 462 397 462 395 462 395 473 394 473 394 486 392 486 392 462 390 462 390 469.1 388 469.1 388 462 384 462 384 462.6 382 462.6 382 462 380 462 380 468.2 378 468.2 378 466.8 377 466.8 377 471.7 376 471.7 376 491 375 491 375 510.3 374 510.3 374 537 373 537 373 571 372 571 372 588 369 588 369 600 367 600 367 586 362 586Z" fill="#ff0000"/>
<path d="M150.5 96.5V712.5M1080.5 96.5V712.5M150 96.5H1081M150 712.5H1081" stroke="#000" stroke-width="1.11" fill="none"/>
<path d="M150.5 712V717.5 M266.5 712V717.5 M383.5 712V717.5 M499.5 712V717.5 M615.5 712V717.5 M731.5 712V717.5 M848.5 712V717.5 M964.5 712V717.5 M1080.5 712V717.5 M145 712.5H150 M145 624.5H150 M145 536.5H150 M145 448.5H150 M145 360.5H150 M145 272.5H150 M145 184.5H150 M145 96.5H150" stroke="#000" stroke-width="1.11" fill="none"/>
<text x="139.3" y="721.0" font-size="23.2" text-anchor="end" textLength="12.9" lengthAdjust="spacingAndGlyphs">0</text>
<text x="139.3" y="633.0" font-size="23.2" text-anchor="end" textLength="12.9" lengthAdjust="spacingAndGlyphs">2</text>
<text x="139.3" y="545.0" font-size="23.2" text-anchor="end" textLength="12.9" lengthAdjust="spacingAndGlyphs">4</text>
<text x="139.3" y="457.0" font-size="23.2" text-anchor="end" textLength="12.9" lengthAdjust="spacingAndGlyphs">6</text>
<text x="139.3" y="369.0" font-size="23.2" text-anchor="end" textLength="12.9" lengthAdjust="spacingAndGlyphs">8</text>
<text x="139.3" y="281.0" font-size="23.2" text-anchor="end" textLength="27.1" lengthAdjust="spacingAndGlyphs">10</text>
<text x="139.3" y="193.0" font-size="23.2" text-anchor="end" textLength="27.1" lengthAdjust="spacingAndGlyphs">12</text>
<text x="139.3" y="105.0" font-size="23.2" text-anchor="end" textLength="27.1" lengthAdjust="spacingAndGlyphs">14</text>
<text x="150.00" y="739.5" font-size="23.2" text-anchor="middle" textLength="12.8" lengthAdjust="spacingAndGlyphs">0</text>
<text x="266.25" y="739.5" font-size="23.2" text-anchor="middle" textLength="12.8" lengthAdjust="spacingAndGlyphs">3</text>
<text x="382.50" y="739.5" font-size="23.2" text-anchor="middle" textLength="12.8" lengthAdjust="spacingAndGlyphs">6</text>
<text x="498.75" y="739.5" font-size="23.2" text-anchor="middle" textLength="12.8" lengthAdjust="spacingAndGlyphs">9</text>
<text x="615.00" y="739.5" font-size="23.2" text-anchor="middle" textLength="27.0" lengthAdjust="spacingAndGlyphs">12</text>
<text x="731.25" y="739.5" font-size="23.2" text-anchor="middle" textLength="27.0" lengthAdjust="spacingAndGlyphs">15</text>
<text x="847.50" y="739.5" font-size="23.2" text-anchor="middle" textLength="27.0" lengthAdjust="spacingAndGlyphs">18</text>
<text x="963.75" y="739.5" font-size="23.2" text-anchor="middle" textLength="27.0" lengthAdjust="spacingAndGlyphs">21</text>
<text x="1080.00" y="739.5" font-size="23.2" text-anchor="middle" textLength="27.0" lengthAdjust="spacingAndGlyphs">24</text>
<text x="318.0 331.5 346.2 358.8 372.1 383.4 390.2 404.6 417.6 430.4 441.9 454.3 469.3 482.3 495.4 508.3 520.2 532.2 538.8 552.0 558.9 565.8 579.1 592.4 605.7 618.9 626.0 639.3 652.5 659.6 672.9 685.9 692.8 709.8 716.2 723.8 736.8 743.8 750.8 763.5 775.3 788.0 799.2 805.8 817.3 830.3 843.3 856.1 864.8 880.3 887.2 900.4" y="88" font-size="22.1" >EGYPT-SpaceAgency of 2026/01/13 with focus code = 01</text>
<text x="518.9 535.0 548.2 554.2 566.2 579.4 587.3 598.5 611.5 617.1 623.1 636.0 642.4 662.0 674.8 682.2 689.8 703.6" y="766" font-size="22.1" >Universal Time [h]</text>
<g transform="translate(101 405.7) rotate(-90)"><text x="-65.7 -54.4 -46.3 -39.3 -26.6 -14.3 -6.9 6.3 14.5 21.9 29.5 42.0 57.6" y="0" font-size="22.1" >Y-factor [dB]</text></g>
<rect x="912.5" y="104.5" width="160" height="75" rx="4.5" ry="4.5" fill="#fff" fill-opacity="0.8" stroke="#d6d6d6" stroke-width="1.11"/>
<path d="M918 117.0H953.5" stroke="#0000ff" stroke-width="2.08" fill="none"/>
<text x="972.0 982.6 993.1 1003.5 1009.0 1019.4 1024.3 1038.7 1051.3" y="123.8" font-size="17.6">152.4 MHz</text>
<path d="M918 140.6H953.5" stroke="#008000" stroke-width="2.08" fill="none"/>
<text x="972.0 982.6 993.1 1003.5 1009.0 1019.4 1024.3 1038.7 1051.3" y="147.4" font-size="17.6">260.4 MHz</text>
<path d="M918 164.2H953.5" stroke="#ff0000" stroke-width="2.08" fill="none"/>
<text x="972.0 982.6 993.1 1003.5 1009.0 1019.4 1024.3 1038.7 1051.3" y="171.0" font-size="17.6">323.4 MHz</text>
</svg></body></html>
